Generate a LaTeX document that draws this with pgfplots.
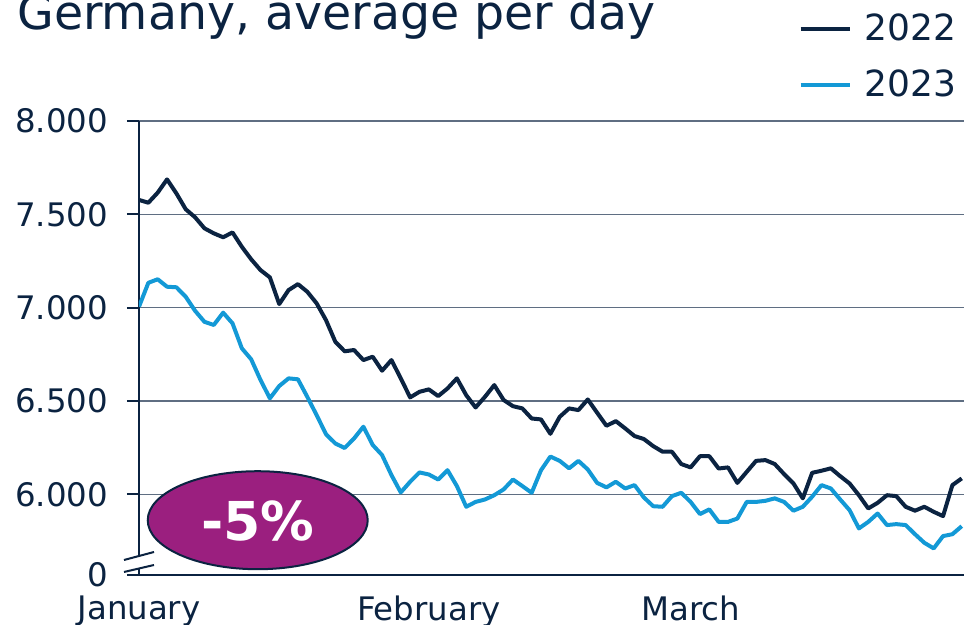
\documentclass[border=0pt]{standalone}
\usepackage{fontspec}
\setmainfont{DejaVu Sans}
\usepackage{pgfplots}
\usepackage{pgfplotstable}
\pgfplotsset{compat=1.18}
\definecolor{cnavy}{HTML}{0B2341}
\definecolor{cblue}{HTML}{1399D6}
\definecolor{cpurple}{HTML}{9B1F7F}
\definecolor{cgrid}{HTML}{5F6E82}

% day of year (0 = 1 January), daily average
\pgfplotstableread{
d y22 y23
0 7577 7005
1 7562 7133
2 7616 7152
3 7687 7112
4 7612 7109
5 7527 7058
6 7484 6983
7 7425 6924
8 7398 6907
9 7377 6973
10 7403 6916
11 7326 6782
12 7259 6723
13 7201 6612
14 7162 6514
15 7019 6580
16 7094 6621
17 7126 6616
18 7085 6522
19 7023 6424
20 6933 6322
21 6817 6272
22 6766 6248
23 6773 6299
24 6719 6362
25 6737 6264
26 6662 6210
27 6719 6103
28 6621 6010
29 6519 6067
30 6549 6117
31 6562 6106
32 6526 6079
33 6567 6129
34 6621 6044
35 6531 5933
36 6465 5959
37 6522 5972
38 6585 5995
39 6505 6026
40 6472 6079
41 6460 6044
42 6406 6008
43 6401 6129
44 6324 6202
45 6415 6179
46 6460 6139
47 6451 6179
48 6508 6133
49 6437 6061
50 6367 6037
51 6392 6067
52 6353 6031
53 6312 6049
54 6296 5983
55 6258 5936
56 6228 5933
57 6228 5990
58 6162 6008
59 6144 5959
60 6204 5894
61 6204 5919
62 6138 5852
63 6144 5852
64 6061 5870
65 6120 5959
66 6179 5959
67 6183 5965
68 6162 5978
69 6108 5959
70 6058 5912
71 5978 5933
72 6115 5987
73 6126 6049
74 6139 6031
75 6097 5972
76 6058 5915
77 5995 5817
78 5924 5852
79 5954 5897
80 5995 5835
81 5990 5840
82 5933 5835
83 5912 5786
84 5933 5740
85 5906 5710
86 5883 5776
87 6049 5786
88 6085 5829
}\daily

\begin{document}
\begin{tikzpicture}
\begin{axis}[
  scale only axis, width=412.5pt, height=227pt,
  xmin=0, xmax=88.24, ymin=5567.5, ymax=8000,
  axis x line*=bottom, axis y line*=left,
  axis line style={-, cnavy, line width=1pt},
  ytick={5567.5,6000,6500,7000,7500,8000},
  yticklabels={0,6.000,6.500,7.000,7.500,8.000},
  ymajorgrids, grid style={cgrid, line width=0.7pt},
  xtick={0,31,59}, xticklabels={January,February,March},
  xtick style={draw=none},
  ytick style={cnavy, line width=1pt},
  major tick length=6pt, tick align=outside,
  tick label style={font=\fontsize{16.2}{19}\selectfont, text=cnavy},
  xticklabel style={yshift=-1pt},
  yticklabel style={xshift=-6pt},
  legend cell align=left,
  legend style={draw=none, fill=none, at={(0.799,1.245)}, anchor=north west,
    font=\fontsize{18}{21}\selectfont, text=cnavy, inner sep=0pt, row sep=9pt},
  legend image code/.code={\draw[#1] (0pt,0pt) -- (24.5pt,0pt); \path (29pt,0pt);},
]
\addplot[cnavy, line width=2pt, line join=round] table[x=d, y=y22] {\daily};
\addlegendentry{2022}
\addplot[cblue, line width=2pt, line join=round] table[x=d, y=y23] {\daily};
\addlegendentry{2023}
\draw[fill=cpurple, draw=cnavy, line width=1pt] (axis cs:12.7,5861) ellipse [x radius=55pt, y radius=24.5pt];
\node[text=white, font=\bfseries\fontsize{26.8}{30}\selectfont] at (axis cs:12.7,5858) {-5\%};
\end{axis}
% axis break on the value axis
\fill[white] (-7.5pt,1.5pt) -- (7.5pt,5pt) -- (7.5pt,11.5pt) -- (-7.5pt,7.5pt) -- cycle;
\draw[cnavy, line width=1pt] (-7.5pt,7.5pt) -- (7.5pt,11.5pt);
\draw[cnavy, line width=1pt] (-7.5pt,1.5pt) -- (7.5pt,5pt);
\node[anchor=base west, inner sep=0pt, text=cnavy, font=\fontsize{23.7}{28}\selectfont] at (-61pt,272.5pt) {Germany, average per day};
\pgfresetboundingbox
\useasboundingbox (-69.5pt,-25pt) rectangle (412.5pt,287.5pt);
\end{tikzpicture}
\end{document}
